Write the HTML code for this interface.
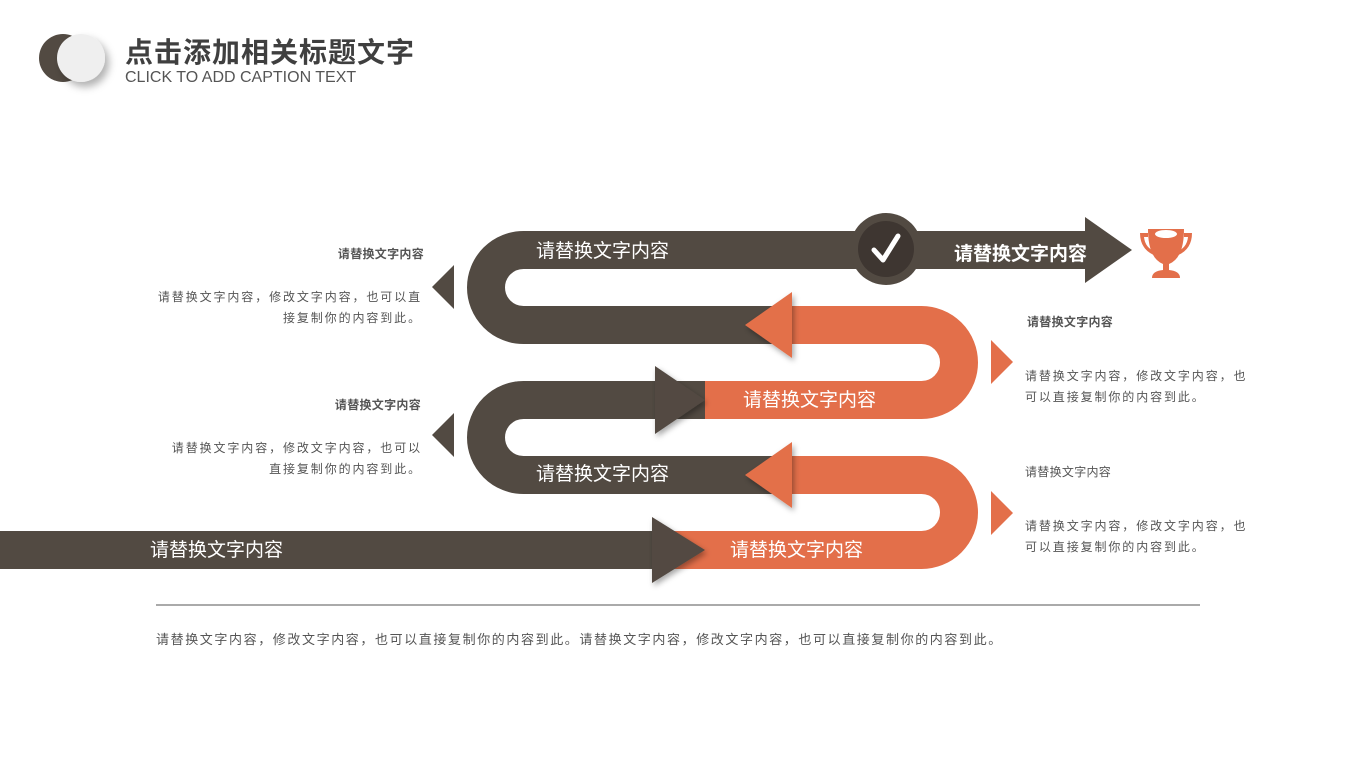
<!DOCTYPE html>
<html><head><meta charset="utf-8"><style>
body{margin:0;width:1350px;height:759px;background:#fff;overflow:hidden;position:relative;font-family:"Liberation Sans","Noto Sans CJK SC",sans-serif}
.t{position:absolute;white-space:nowrap;color:#555;font-family:"Liberation Sans","Noto Sans CJK SC",sans-serif}
.s{letter-spacing:1.9px}
</style></head><body>
<svg width="1350" height="759" style="position:absolute;left:0;top:0">
<defs>
<filter id="sh" x="-30%" y="-30%" width="160%" height="160%"><feDropShadow dx="2" dy="3" stdDeviation="3" flood-color="#000" flood-opacity="0.35"/></filter>
<filter id="sh2" x="-50%" y="-50%" width="200%" height="200%"><feDropShadow dx="4" dy="5" stdDeviation="4" flood-color="#000" flood-opacity="0.3"/></filter>
</defs>
<circle cx="63" cy="58" r="24" fill="#524a42"/>
<circle cx="81" cy="58" r="24" fill="#efefef" filter="url(#sh2)"/>
<g fill="none" stroke-width="38" stroke-linecap="butt">
<path d="M1090 250 H523.5 A37.5 37.5 0 0 0 523.5 325 H792" stroke="#524a42"/>
<path d="M790 325 H921.5 A37.5 37.5 0 0 1 921.5 400 H655" stroke="#e36f4a"/>
<path d="M705 400 H523.5 A37.5 37.5 0 0 0 523.5 475 H792" stroke="#524a42"/>
<path d="M790 475 H921.5 A37.5 37.5 0 0 1 921.5 550 H655" stroke="#e36f4a"/>
<path d="M0 550 H655" stroke="#524a42"/>
</g>
<polygon points="792,292 745,325 792,358" fill="#e36f4a" filter="url(#sh)"/>
<polygon points="792,442 745,475 792,508" fill="#e36f4a" filter="url(#sh)"/>
<polygon points="655,366 705,400 655,434" fill="#524a42" filter="url(#sh)"/>
<polygon points="652,517 705,550 652,583" fill="#524a42" filter="url(#sh)"/>
<polygon points="1085,217 1132,250 1085,283" fill="#524a42"/>
<circle cx="886" cy="249" r="36" fill="#524a42"/>
<circle cx="886" cy="249" r="28" fill="#3e3631"/>
<path d="M874 250 L883 260 L898 236" fill="none" stroke="#fff" stroke-width="5" stroke-linecap="round" stroke-linejoin="round"/>
<polygon points="454,265 432,287 454,309" fill="#524a42"/>
<polygon points="454,413 432,435 454,457" fill="#524a42"/>
<polygon points="991,340 1013,362 991,384" fill="#e36f4a"/>
<polygon points="991,491 1013,513 991,535" fill="#e36f4a"/>
<g fill="#e36f4a">
<path d="M1148 229 H1184 Q1184 258 1169 264 V270 Q1180 271 1180 278 H1152 Q1152 271 1163 270 V264 Q1148 258 1148 229Z"/>
<path d="M1148 233 H1140 Q1140 250 1156 256 L1156 252 Q1145 248 1144 237 H1148Z"/>
<path d="M1184 233 H1192 Q1192 250 1176 256 L1176 252 Q1187 248 1188 237 H1184Z"/>
<ellipse cx="1166" cy="234" rx="11" ry="4" fill="#fff"/>
</g>
<line x1="156" y1="605" x2="1200" y2="605" stroke="#aaa" stroke-width="2"/>
</svg>
<div class="t" style="left:125px;top:31px;font-size:28px;font-weight:bold;color:#3f3f3f;letter-spacing:1px">点击添加相关标题文字</div>
<div class="t" style="left:125px;top:69px;font-size:16px;color:#555">CLICK TO ADD CAPTION TEXT</div>
<div class="t" style="left:536px;top:236px;font-size:19px;color:#fff">请替换文字内容</div>
<div class="t" style="left:954px;top:239px;font-size:19px;font-weight:bold;color:#fff">请替换文字内容</div>
<div class="t" style="left:743px;top:385px;font-size:19px;color:#fff">请替换文字内容</div>
<div class="t" style="left:536px;top:459px;font-size:19px;color:#fff">请替换文字内容</div>
<div class="t" style="left:730px;top:535px;font-size:19px;color:#fff">请替换文字内容</div>
<div class="t" style="left:150px;top:535px;font-size:19px;color:#fff">请替换文字内容</div>
<div class="t" style="right:926px;top:245px;font-size:12px;font-weight:bold;letter-spacing:0.3px">请替换文字内容</div>
<div class="t s" style="right:928px;top:287px;font-size:12px;line-height:21px;text-align:right">请替换文字内容，修改文字内容，也可以直<br>接复制你的内容到此。</div>
<div class="t" style="right:929px;top:396px;font-size:12px;font-weight:bold;letter-spacing:0.3px">请替换文字内容</div>
<div class="t s" style="right:928px;top:438px;font-size:12px;line-height:21px;text-align:right">请替换文字内容，修改文字内容，也可以<br>直接复制你的内容到此。</div>
<div class="t" style="left:1027px;top:313px;font-size:12px;font-weight:bold;letter-spacing:0.3px">请替换文字内容</div>
<div class="t s" style="left:1025px;top:366px;font-size:12px;line-height:21px">请替换文字内容，修改文字内容，也<br>可以直接复制你的内容到此。</div>
<div class="t" style="left:1025px;top:463px;font-size:12px;letter-spacing:0.3px">请替换文字内容</div>
<div class="t s" style="left:1025px;top:516px;font-size:12px;line-height:21px">请替换文字内容，修改文字内容，也<br>可以直接复制你的内容到此。</div>
<div class="t" style="left:156px;top:629px;font-size:13px;letter-spacing:1.6px">请替换文字内容，修改文字内容，也可以直接复制你的内容到此。请替换文字内容，修改文字内容，也可以直接复制你的内容到此。</div>
</body></html>
